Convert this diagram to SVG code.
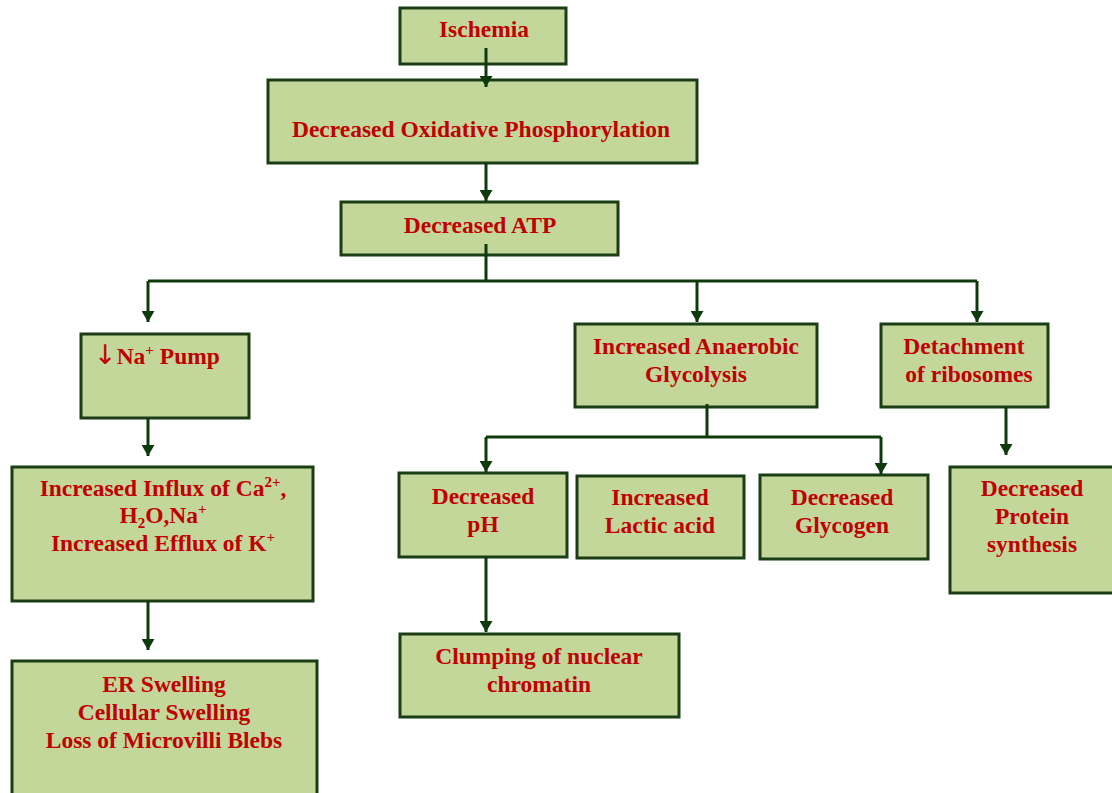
<svg xmlns="http://www.w3.org/2000/svg" width="1112" height="793" viewBox="0 0 1112 793">
<style>
.box{fill:#c4d79b;stroke:#1b3d14;stroke-width:3}
.t{font-family:"Liberation Serif","Times New Roman",serif;font-weight:bold;font-size:23.5px;fill:#c00000;text-anchor:middle}
.sup{font-size:15px}
.c{fill:none;stroke:#0f3a0c;stroke-width:3}
</style>
<defs>
<marker id="ah" viewBox="0 0 11 13" refX="11" refY="6.5" markerWidth="11" markerHeight="13" markerUnits="userSpaceOnUse" orient="auto">
<path d="M0,0 L11,6.5 L0,13 Z" fill="#0f3a0c"/>
</marker>
</defs>
<rect width="1112" height="793" fill="#ffffff"/>
<g id="n-ischemia"><rect class="box" x="400" y="8" width="166" height="56"/><text class="t" x="484" y="37">Ischemia</text></g>
<g id="n-oxphos"><rect class="box" x="268" y="80" width="429" height="83"/><text class="t" x="481" y="137">Decreased Oxidative Phosphorylation</text></g>
<g id="n-atp"><rect class="box" x="341" y="202" width="277" height="53"/><text class="t" x="480" y="233">Decreased ATP</text></g>
<g id="n-napump"><rect class="box" x="81" y="334" width="168" height="84"/><text class="t" x="94" y="364" style="text-anchor:start"><tspan font-family="DejaVu Sans" font-weight="normal" font-size="27">↓</tspan>Na<tspan class="sup" dy="-9">+</tspan><tspan dy="9"> Pump</tspan></text></g>
<g id="n-influx"><rect class="box" x="12" y="467" width="301" height="134"/>
<text class="t" x="163" y="496">Increased Influx of Ca<tspan class="sup" dy="-9">2+</tspan><tspan dy="9">,</tspan></text>
<text class="t" x="163" y="523">H<tspan class="sup" dy="5">2</tspan><tspan dy="-5">O,Na</tspan><tspan class="sup" dy="-9">+</tspan></text>
<text class="t" x="163" y="551">Increased Efflux of K<tspan class="sup" dy="-9">+</tspan></text></g>
<g id="n-er"><rect class="box" x="12" y="661" width="305" height="140"/>
<text class="t" x="164" y="692">ER Swelling</text><text class="t" x="164" y="720">Cellular Swelling</text><text class="t" x="164" y="748">Loss of Microvilli Blebs</text></g>
<g id="n-anaerobic"><rect class="box" x="575" y="324" width="242" height="83"/>
<text class="t" x="696" y="354">Increased Anaerobic</text><text class="t" x="696" y="382">Glycolysis</text></g>
<g id="n-detach"><rect class="box" x="881" y="324" width="167" height="83"/>
<text class="t" x="964" y="354">Detachment</text><text class="t" x="969" y="382">of ribosomes</text></g>
<g id="n-ph"><rect class="box" x="399" y="473" width="168" height="84"/>
<text class="t" x="483" y="504">Decreased</text><text class="t" x="483" y="532">pH</text></g>
<g id="n-lactic"><rect class="box" x="577" y="476" width="167" height="82"/>
<text class="t" x="660" y="505">Increased</text><text class="t" x="660" y="533">Lactic acid</text></g>
<g id="n-glycogen"><rect class="box" x="760" y="475" width="168" height="84"/>
<text class="t" x="842" y="505">Decreased</text><text class="t" x="842" y="533">Glycogen</text></g>
<g id="n-protein"><rect class="box" x="950" y="467" width="170" height="126"/>
<text class="t" x="1032" y="496">Decreased</text><text class="t" x="1032" y="524">Protein</text><text class="t" x="1032" y="552">synthesis</text></g>
<g id="n-chromatin"><rect class="box" x="400" y="634" width="279" height="83"/>
<text class="t" x="539" y="664">Clumping of nuclear</text><text class="t" x="539" y="692">chromatin</text></g>
<g id="connectors">
<path class="c" d="M486,48 V87" marker-end="url(#ah)"/>
<path class="c" d="M486,163 V201" marker-end="url(#ah)"/>
<path class="c" d="M486,244 V281 M148,281 H977"/>
<path class="c" d="M148,281 V322" marker-end="url(#ah)"/>
<path class="c" d="M697,281 V322" marker-end="url(#ah)"/>
<path class="c" d="M977,281 V322" marker-end="url(#ah)"/>
<path class="c" d="M148,418 V456" marker-end="url(#ah)"/>
<path class="c" d="M148,601 V650" marker-end="url(#ah)"/>
<path class="c" d="M707,404 V437 M486,437 H881"/>
<path class="c" d="M486,437 V472" marker-end="url(#ah)"/>
<path class="c" d="M881,437 V474" marker-end="url(#ah)"/>
<path class="c" d="M1006,407 V455" marker-end="url(#ah)"/>
<path class="c" d="M486,557 V632" marker-end="url(#ah)"/>
</g>
</svg>
